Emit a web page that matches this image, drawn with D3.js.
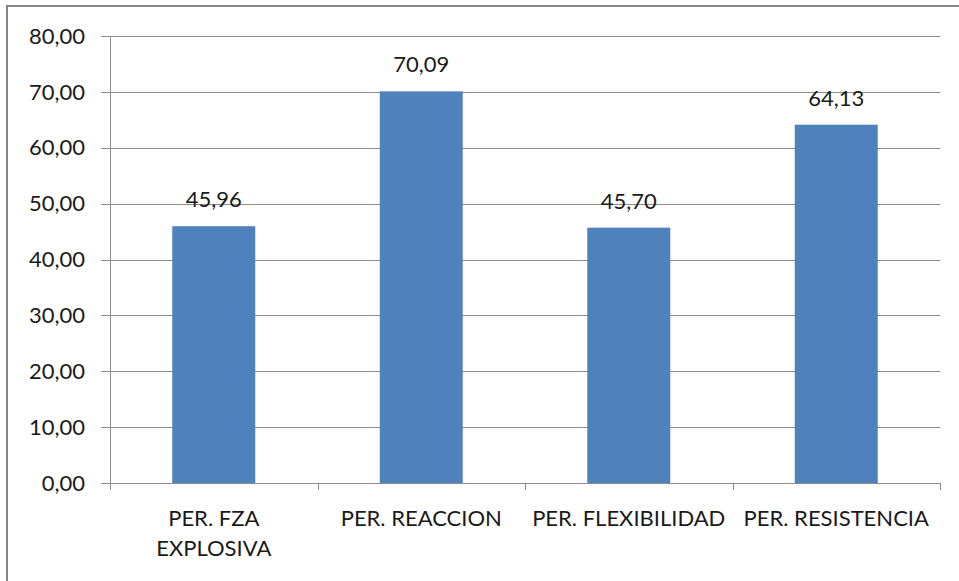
<!DOCTYPE html>
<html>
<head>
<meta charset="utf-8">
<script src="https://cdn.jsdelivr.net/npm/d3@7"></script>
<style>
  body { margin: 0; background: #fff; }
  svg text { font-family: Lato, "Open Sans", sans-serif; fill: #1a1a1a; }
</style>
</head>
<body>
<div id="chart"></div>
<script>
const CATEGORIES = ["PER. FZA EXPLOSIVA", "PER. REACCION", "PER. FLEXIBILIDAD", "PER. RESISTENCIA"]
const CATEGORY_LINES = [["PER. FZA", "EXPLOSIVA"], ["PER. REACCION"], ["PER. FLEXIBILIDAD"], ["PER. RESISTENCIA"]]
const VALUES = [45.96, 70.09, 45.70, 64.13]
const Y_TICKS = [0, 10, 20, 30, 40, 50, 60, 70, 80]

const W = 959, H = 581
const margin = { top: 36, right: 19, bottom: 98, left: 110 },
    width = W - margin.left - margin.right,
    height = H - margin.top - margin.bottom

const fmt = v => d3.format(".2f")(v).replace(".", ",")

const svg = d3.select("#chart").append("svg")
    .attr("width", W)
    .attr("height", H)

// outer frame
svg.append("rect")
    .attr("x", 7).attr("y", 6)
    .attr("width", W + 10).attr("height", H + 10)
    .attr("fill", "none")
    .attr("stroke", "#868686")
    .attr("stroke-width", 2)

const g = svg.append("g")
    .attr("transform", "translate(" + margin.left + "," + margin.top + ")")

const x = d3.scaleBand()
    .domain(CATEGORIES)
    .range([0, width])
    .paddingInner(0.6)
    .paddingOuter(0.3)

// band without padding, for the category ticks
const xCat = d3.scaleBand().domain(CATEGORIES).range([0, width])

const y = d3.scaleLinear()
    .domain([0, 80])
    .range([height, 0])

// gridlines
g.append("g")
    .selectAll("line")
    .data(Y_TICKS)
    .enter().append("line")
    .attr("x1", -9)
    .attr("x2", width)
    .attr("y1", d => Math.round(y(d)) + 0.5)
    .attr("y2", d => Math.round(y(d)) + 0.5)
    .attr("stroke", "#8c8c8c")
    .attr("stroke-width", 1)

// y axis line
g.append("line")
    .attr("x1", 0.5).attr("x2", 0.5)
    .attr("y1", 0).attr("y2", height + 6)
    .attr("stroke", "#8c8c8c")

// y tick labels
g.append("g")
    .selectAll("text")
    .data(Y_TICKS)
    .enter().append("text")
    .attr("x", -25)
    .attr("y", d => y(d))
    .attr("dy", "0.35em")
    .attr("text-anchor", "end")
    .style("font-size", "22px")
    .text(d => fmt(d))

// x category ticks
g.append("g")
    .selectAll("line")
    .data(CATEGORIES.map(d => xCat(d)).concat([width]))
    .enter().append("line")
    .attr("x1", d => Math.round(d) + 0.5)
    .attr("x2", d => Math.round(d) + 0.5)
    .attr("y1", height)
    .attr("y2", height + 7)
    .attr("stroke", "#8c8c8c")

// bars
g.append("g")
    .selectAll("rect")
    .data(VALUES)
    .enter().append("rect")
    .attr("x", (d, i) => x(CATEGORIES[i]))
    .attr("y", d => y(d))
    .attr("width", x.bandwidth())
    .attr("height", d => height - y(d))
    .attr("fill", "#4f81bd")

// value labels
g.append("g")
    .selectAll("text")
    .data(VALUES)
    .enter().append("text")
    .attr("x", (d, i) => x(CATEGORIES[i]) + x.bandwidth() / 2)
    .attr("y", d => y(d) - 19)
    .attr("text-anchor", "middle")
    .style("font-size", "22px")
    .text(d => fmt(d))

// category labels
const cat = g.append("g")
    .selectAll("text")
    .data(CATEGORIES)
    .enter().append("text")
    .attr("x", d => xCat(d) + xCat.bandwidth() / 2)
    .attr("y", height + 43)
    .attr("text-anchor", "middle")
    .style("font-size", "22px")

cat.selectAll("tspan")
    .data((d, i) => CATEGORY_LINES[i])
    .enter().append("tspan")
    .attr("x", function () { return d3.select(this.parentNode).attr("x") })
    .attr("dy", (d, i) => i === 0 ? 0 : 30)
    .text(d => d)
</script>
</body>
</html>
